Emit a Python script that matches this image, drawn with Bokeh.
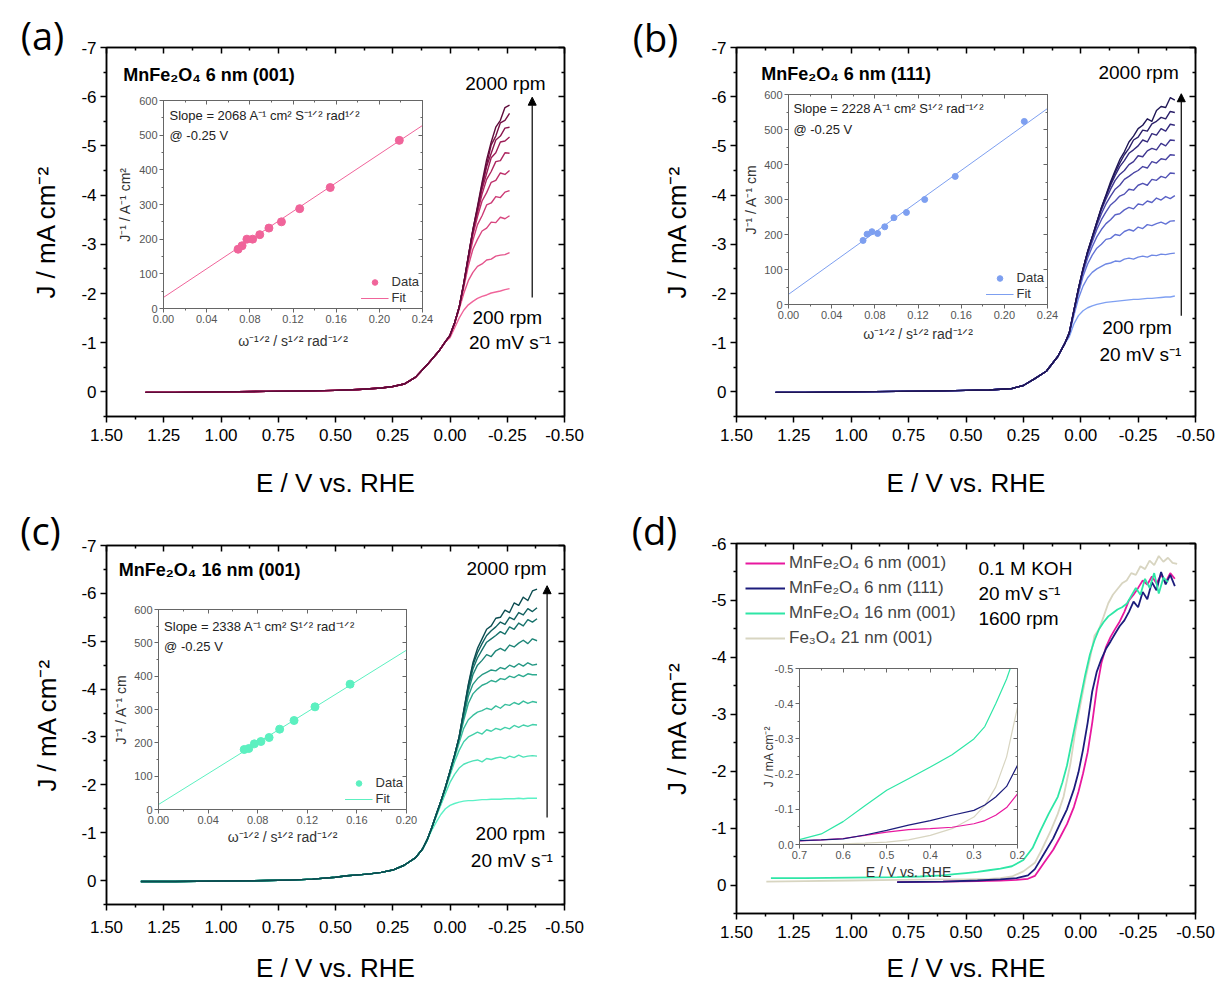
from bokeh.plotting import figure
from bokeh.models import (Range1d, LinearAxis, FixedTicker, NumeralTickFormatter, CustomJSTickFormatter,
                          Label, Arrow, NormalHead, Legend, LegendItem, Column)
from bokeh.embed import file_html
from bokeh.resources import INLINE

FONT = "Liberation Sans"

# ---------------------------------------------------------------- data
rpm = [200, 400, 600, 800, 1000, 1200, 1400, 1600, 1800, 2000]

# panel (a) MnFe2O4 6 nm (001)
a_E_base = [1.33, 1.2, 1.0, 0.8, 0.6, 0.5, 0.4, 0.3, 0.25, 0.2, 0.15, 0.1, 0.05, 0.02]
a_J_base = [0.01, 0.01, 0.0, -0.01, -0.02, -0.03, -0.05, -0.08, -0.11, -0.16, -0.3, -0.55, -0.82, -1.02]
a_E_tail = [0.0, -0.02, -0.04, -0.06, -0.08, -0.10, -0.12, -0.14, -0.16, -0.18, -0.20, -0.22, -0.24, -0.26]
a_J_tails = [
    [-1.1, -1.3, -1.5, -1.66, -1.77, -1.84, -1.9, -1.94, -1.97, -2.01, -2.03, -2.05, -2.08, -2.1],
    [-1.13, -1.38, -1.68, -2.0, -2.26, -2.43, -2.55, -2.6, -2.68, -2.7, -2.76, -2.78, -2.79, -2.83],
    [-1.14, -1.39, -1.7, -2.12, -2.56, -2.9, -3.1, -3.27, -3.33, -3.45, -3.44, -3.55, -3.52, -3.58],
    [-1.15, -1.4, -1.71, -2.17, -2.66, -3.08, -3.4, -3.58, -3.8, -3.84, -3.97, -3.95, -4.06, -4.09],
    [-1.15, -1.4, -1.72, -2.18, -2.7, -3.19, -3.56, -3.88, -4.05, -4.26, -4.3, -4.45, -4.42, -4.5],
    [-1.15, -1.4, -1.72, -2.19, -2.72, -3.24, -3.64, -4.02, -4.32, -4.48, -4.68, -4.7, -4.86, -4.85],
    [-1.15, -1.4, -1.72, -2.2, -2.74, -3.27, -3.69, -4.12, -4.44, -4.76, -4.86, -5.08, -5.1, -5.18],
    [-1.15, -1.4, -1.72, -2.2, -2.75, -3.28, -3.72, -4.17, -4.58, -4.85, -5.12, -5.2, -5.36, -5.38],
    [-1.15, -1.4, -1.72, -2.2, -2.75, -3.3, -3.74, -4.22, -4.62, -5.02, -5.2, -5.47, -5.52, -5.66],
    [-1.15, -1.4, -1.72, -2.2, -2.76, -3.3, -3.77, -4.26, -4.72, -5.08, -5.38, -5.52, -5.78, -5.83],
]
a_colors = ["#f0649a", "#e4548c", "#d8467f", "#cc3a75", "#bd2f6a",
            "#ad265f", "#9c1d56", "#8a164d", "#761044", "#5e0b3a"]

# panel (b) MnFe2O4 6 nm (111)
b_E_base = [1.33, 1.2, 1.0, 0.8, 0.6, 0.5, 0.4, 0.3, 0.25, 0.2, 0.15, 0.1, 0.07]
b_J_base = [0.01, 0.01, 0.0, -0.01, -0.02, -0.03, -0.04, -0.07, -0.13, -0.27, -0.42, -0.72, -0.98]
b_E_tail = [0.05, 0.03, 0.01, -0.01, -0.03, -0.05, -0.07, -0.09, -0.11, -0.13, -0.15, -0.17,
            -0.19, -0.21, -0.23, -0.25, -0.27, -0.29, -0.31, -0.33, -0.35, -0.37, -0.39, -0.41]
b_J_tails = [
    [-1.12, -1.38, -1.55, -1.65, -1.71, -1.75, -1.78, -1.8, -1.82, -1.83, -1.84, -1.85, -1.86, -1.87, -1.88, -1.88, -1.89, -1.9, -1.9, -1.91, -1.92, -1.93, -1.93, -1.95],
    [-1.16, -1.55, -1.9, -2.15, -2.32, -2.43, -2.5, -2.55, -2.6, -2.62, -2.66, -2.65, -2.7, -2.72, -2.7, -2.74, -2.76, -2.74, -2.78, -2.77, -2.8, -2.79, -2.81, -2.82],
    [-1.18, -1.6, -2.0, -2.35, -2.6, -2.78, -2.92, -3.0, -3.1, -3.12, -3.2, -3.18, -3.26, -3.3, -3.27, -3.35, -3.32, -3.4, -3.38, -3.42, -3.45, -3.41, -3.47, -3.48],
    [-1.19, -1.62, -2.05, -2.42, -2.72, -2.95, -3.15, -3.3, -3.42, -3.5, -3.6, -3.62, -3.7, -3.75, -3.72, -3.82, -3.8, -3.88, -3.85, -3.94, -3.9, -3.97, -3.93, -3.99],
    [-1.2, -1.64, -2.08, -2.46, -2.78, -3.05, -3.3, -3.5, -3.66, -3.8, -3.88, -3.98, -4.02, -4.12, -4.1, -4.2, -4.24, -4.2, -4.32, -4.3, -4.38, -4.35, -4.45, -4.44],
    [-1.2, -1.65, -2.09, -2.48, -2.82, -3.1, -3.38, -3.62, -3.82, -3.98, -4.12, -4.2, -4.32, -4.38, -4.45, -4.5, -4.58, -4.55, -4.68, -4.65, -4.74, -4.72, -4.82, -4.81],
    [-1.2, -1.65, -2.1, -2.49, -2.84, -3.13, -3.42, -3.7, -3.92, -4.12, -4.3, -4.42, -4.5, -4.62, -4.68, -4.8, -4.78, -4.9, -4.95, -4.92, -5.05, -5.0, -5.12, -5.11],
    [-1.2, -1.65, -2.1, -2.5, -2.85, -3.14, -3.44, -3.73, -3.97, -4.2, -4.4, -4.58, -4.7, -4.85, -4.92, -5.0, -5.12, -5.08, -5.25, -5.22, -5.35, -5.3, -5.44, -5.42],
    [-1.2, -1.65, -2.1, -2.5, -2.85, -3.15, -3.45, -3.74, -3.99, -4.23, -4.46, -4.65, -4.82, -4.95, -5.12, -5.18, -5.32, -5.3, -5.45, -5.5, -5.58, -5.55, -5.7, -5.68],
    [-1.2, -1.65, -2.1, -2.5, -2.85, -3.15, -3.45, -3.75, -4.0, -4.27, -4.5, -4.72, -4.88, -5.08, -5.2, -5.35, -5.42, -5.55, -5.5, -5.72, -5.8, -5.78, -5.98, -5.93],
]
b_colors = ["#7fa0f2", "#6f88e4", "#6373d6", "#5a62c6", "#5152b4",
            "#4843a2", "#3e3690", "#342a7d", "#2a1f69", "#1f1655"]

# panel (c) MnFe2O4 16 nm (001)
c_E_base = [1.35, 1.2, 1.0, 0.8, 0.7, 0.6, 0.5, 0.45, 0.4, 0.35, 0.3, 0.25, 0.2, 0.15, 0.12]
c_J_base = [0.02, 0.02, 0.01, 0.0, -0.01, -0.03, -0.07, -0.1, -0.12, -0.14, -0.17, -0.22, -0.32, -0.48, -0.66]
c_E_tail = [0.10, 0.08, 0.06, 0.04, 0.02, 0.0, -0.02, -0.04, -0.06, -0.08, -0.10, -0.12, -0.14,
            -0.16, -0.18, -0.20, -0.22, -0.24, -0.26, -0.28, -0.30, -0.32, -0.34, -0.36, -0.38]
c_J_tails = [
    [-0.83, -1.05, -1.22, -1.38, -1.5, -1.57, -1.61, -1.64, -1.66, -1.67, -1.67, -1.68, -1.69, -1.69, -1.7, -1.7, -1.7, -1.71, -1.71, -1.71, -1.72, -1.71, -1.72, -1.72, -1.72],
    [-0.84, -1.08, -1.34, -1.58, -1.82, -2.05, -2.22, -2.35, -2.43, -2.47, -2.5, -2.52, -2.48, -2.55, -2.53, -2.56, -2.58, -2.55, -2.6, -2.57, -2.62, -2.58, -2.6, -2.61, -2.6],
    [-0.85, -1.09, -1.36, -1.62, -1.9, -2.2, -2.48, -2.72, -2.9, -3.0, -3.05, -3.1, -3.06, -3.15, -3.12, -3.18, -3.15, -3.2, -3.17, -3.24, -3.2, -3.25, -3.22, -3.26, -3.25],
    [-0.85, -1.1, -1.37, -1.64, -1.93, -2.25, -2.56, -2.88, -3.18, -3.36, -3.45, -3.52, -3.55, -3.6, -3.57, -3.65, -3.6, -3.68, -3.66, -3.72, -3.68, -3.75, -3.7, -3.74, -3.72],
    [-0.85, -1.1, -1.38, -1.65, -1.94, -2.27, -2.6, -2.95, -3.35, -3.7, -3.9, -4.0, -4.08, -4.12, -4.18, -4.15, -4.22, -4.2, -4.27, -4.24, -4.3, -4.26, -4.32, -4.3, -4.3],
    [-0.85, -1.1, -1.38, -1.65, -1.95, -2.28, -2.61, -2.97, -3.42, -3.85, -4.1, -4.22, -4.3, -4.35, -4.4, -4.38, -4.45, -4.42, -4.5, -4.46, -4.53, -4.48, -4.55, -4.5, -4.52],
    [-0.85, -1.1, -1.38, -1.65, -1.95, -2.28, -2.62, -2.98, -3.48, -3.95, -4.3, -4.5, -4.6, -4.72, -4.68, -4.8, -4.85, -4.8, -4.92, -4.88, -4.96, -5.02, -4.95, -5.05, -5.01],
    [-0.85, -1.1, -1.38, -1.65, -1.95, -2.28, -2.62, -3.0, -3.52, -4.02, -4.42, -4.65, -4.82, -4.98, -5.05, -5.12, -5.2, -5.15, -5.3, -5.25, -5.38, -5.32, -5.45, -5.4, -5.47],
    [-0.85, -1.1, -1.38, -1.65, -1.95, -2.28, -2.62, -3.0, -3.54, -4.07, -4.5, -4.76, -4.95, -5.12, -5.22, -5.3, -5.4, -5.35, -5.5, -5.45, -5.6, -5.55, -5.68, -5.62, -5.7],
    [-0.85, -1.1, -1.38, -1.65, -1.95, -2.28, -2.62, -3.0, -3.55, -4.1, -4.55, -4.85, -5.05, -5.25, -5.32, -5.48, -5.5, -5.65, -5.6, -5.8, -5.75, -5.92, -5.85, -6.05, -6.09],
]
c_colors = ["#5cf2c6", "#4fe2b8", "#43d0aa", "#38be9d", "#2eab90",
            "#259884", "#1d8577", "#16726b", "#105f5e", "#0b4c50"]

# Koutecky-Levich insets: omega^-1/2 for 200 ... 2000 rpm
kl_x = [0.2185, 0.1545, 0.1262, 0.1093, 0.0977, 0.0892, 0.0826, 0.0773, 0.0728, 0.0691]
a_kl_y = [485, 349, 288, 250, 232, 213, 200, 200, 181, 171]
a_fit_x = [0.0, 0.24]
a_fit_y = [32, 528]
b_kl_y = [523, 366, 300, 263, 248, 222, 203, 208, 201, 183]
b_fit_x = [0.0, 0.24]
b_fit_y = [29, 560]
c_kl_x = [0.1545, 0.1262, 0.1093, 0.0977, 0.0892, 0.0826, 0.0773, 0.0728, 0.0691]
c_kl_y = [376, 308, 267, 241, 216, 204, 197, 183, 180]
c_fit_x = [0.0, 0.20]
c_fit_y = [15, 478]

# panel (d) comparison at 1600 rpm
d_E_m = [0.80, 0.60, 0.45, 0.35, 0.28, 0.23, 0.20, 0.16, 0.12, 0.09, 0.06, 0.03, 0.01,
         -0.01, -0.03, -0.05, -0.07, -0.09, -0.11, -0.13, -0.15, -0.17, -0.19, -0.21,
         -0.23, -0.25, -0.27, -0.29, -0.31, -0.33, -0.35, -0.37, -0.39, -0.41]
d_J_m = [-0.05, -0.06, -0.07, -0.08, -0.09, -0.11, -0.16, -0.39, -0.62, -0.84, -1.07, -1.37, -1.64,
         -1.96, -2.33, -2.85, -3.45, -3.9, -4.18, -4.36, -4.5, -4.63, -4.8, -5.0,
         -5.1, -5.22, -5.35, -5.28, -5.42, -5.3, -5.45, -5.32, -5.48, -5.38]
d_J_n = [-0.05, -0.06, -0.08, -0.1, -0.12, -0.17, -0.28, -0.55, -0.82, -1.08, -1.33, -1.68, -1.98,
         -2.38, -2.85, -3.4, -3.75, -3.97, -4.15, -4.28, -4.42, -4.55, -4.65, -4.8,
         -4.98, -4.88, -5.15, -5.02, -5.32, -5.18, -5.5, -5.28, -5.45, -5.25]
d_E_g = [1.35, 1.2, 1.0, 0.8, 0.7, 0.6, 0.55, 0.5, 0.45, 0.4, 0.35, 0.3, 0.25, 0.21, 0.175, 0.14,
         0.10, 0.08, 0.06, 0.04, 0.02, 0.0, -0.02, -0.04, -0.06, -0.08, -0.10, -0.12, -0.14,
         -0.16, -0.18, -0.20, -0.22, -0.24, -0.26, -0.28, -0.30, -0.32, -0.34, -0.36, -0.38]
d_J_g = [-0.12, -0.12, -0.13, -0.14, -0.15, -0.17, -0.19, -0.21, -0.23, -0.26, -0.29, -0.33, -0.44, -0.65, -0.96, -1.25,
         -1.55, -1.8, -2.1, -2.5, -2.9, -3.3, -3.7, -4.05, -4.3, -4.5, -4.62, -4.72, -4.78,
         -4.84, -4.88, -4.94, -5.08, -5.22, -5.1, -5.38, -5.22, -5.48, -5.12, -5.4, -5.32]
d_E_f = [1.37, 1.2, 1.0, 0.8, 0.6, 0.5, 0.4, 0.35, 0.3, 0.25, 0.2, 0.17, 0.13, 0.1, 0.075, 0.045, 0.023,
         0.0, -0.02, -0.04, -0.06, -0.08, -0.10, -0.12, -0.14, -0.16, -0.18, -0.20, -0.22,
         -0.24, -0.26, -0.28, -0.30, -0.32, -0.34, -0.36, -0.38, -0.40, -0.42]
d_J_f = [-0.06, -0.07, -0.08, -0.09, -0.1, -0.1, -0.11, -0.12, -0.15, -0.24, -0.39, -0.62, -0.96, -1.25, -1.55, -2.13, -2.72,
         -3.2, -3.62, -3.98, -4.38, -4.5, -4.72, -4.95, -5.1, -5.2, -5.3, -5.35, -5.48,
         -5.45, -5.6, -5.55, -5.7, -5.62, -5.78, -5.68, -5.75, -5.66, -5.64]
d_names = ["MnFe\u2082O\u2084 6 nm (001)", "MnFe\u2082O\u2084 6 nm (111)",
           "MnFe\u2082O\u2084 16 nm (001)", "Fe\u2083O\u2084 21 nm (001)"]
d_colors = ["#e8189f", "#1c1c7c", "#2ee6a6", "#d8d5c1"]

# panel (d) inset (onset region)
din_E = [0.7, 0.65, 0.6, 0.55, 0.5, 0.45, 0.4, 0.35, 0.3, 0.275, 0.25, 0.225, 0.2]
din_J_m = [-0.01, -0.013, -0.017, -0.026, -0.035, -0.042, -0.045, -0.049, -0.059, -0.068, -0.083, -0.105, -0.144]
din_J_n = [-0.011, -0.013, -0.016, -0.027, -0.04, -0.055, -0.068, -0.083, -0.097, -0.112, -0.135, -0.165, -0.225]
din_J_g = [-0.014, -0.03, -0.065, -0.11, -0.154, -0.187, -0.22, -0.255, -0.30, -0.335, -0.40, -0.47, -0.56]
din_J_f = [0.0, -0.001, -0.002, -0.004, -0.007, -0.013, -0.026, -0.045, -0.078, -0.111, -0.163, -0.249, -0.39]

# ---------------------------------------------------------------- helpers
BL, BR = 130, 50   # common left/right borders (column aligns them across children)
EMPTY = CustomJSTickFormatter(code="return ''")


def place(l, t):
    return [":host { position: absolute !important; left: %dpx !important; top: %dpx !important; }" % (l, t)]


def style_axis(ax, tick_px, lab_px, color="black", lw=1.5, t_out=6, t_in=0, m_out=3, m_in=0,
               lab_color="black", tick_color="black"):
    ax.axis_line_width = lw
    ax.axis_line_color = color
    ax.major_tick_line_width = lw
    ax.minor_tick_line_width = lw
    ax.major_tick_line_color = color
    ax.minor_tick_line_color = color
    ax.major_tick_out = t_out
    ax.major_tick_in = t_in
    ax.minor_tick_out = m_out
    ax.minor_tick_in = m_in
    ax.major_label_text_font = FONT
    ax.major_label_text_font_size = "%dpx" % tick_px
    ax.major_label_text_color = tick_color
    ax.axis_label_text_font = FONT
    ax.axis_label_text_font_size = "%dpx" % lab_px
    ax.axis_label_text_font_style = "normal"
    ax.axis_label_text_color = lab_color


X_TICKS = FixedTicker(ticks=[1.5, 1.25, 1.0, 0.75, 0.5, 0.25, 0.0, -0.25, -0.5],
                      minor_ticks=[1.375, 1.125, 0.875, 0.625, 0.375, 0.125, -0.125, -0.375])


def main_panel(fl, ft, fw, fh, bt, bb, ytop, xl_std, xt_std, yl_std):
    p = figure(width=BL + fw + BR, height=bt + fh + bb, x_range=Range1d(1.5, -0.5), y_range=Range1d(0.5, ytop),
               output_backend="svg", toolbar_location=None,
               min_border_left=BL, min_border_top=bt, min_border_right=BR, min_border_bottom=bb,
               background_fill_alpha=0, border_fill_alpha=0,
               outline_line_color="black", outline_line_width=1.5,
               stylesheets=place(fl - BL, ft - bt))
    p.grid.visible = False
    yt = FixedTicker(ticks=list(range(int(ytop), 1)),
                     minor_ticks=[v + 0.5 for v in range(int(ytop), 1)])
    xa = p.xaxis[0]
    xa.ticker = X_TICKS
    xa.formatter = NumeralTickFormatter(format="0.00")
    xa.axis_label = "E / V vs. RHE"
    style_axis(xa, 17, 26)
    xa.major_label_standoff = xt_std
    xa.axis_label_standoff = xl_std
    ya = p.yaxis[0]
    ya.ticker = yt
    ya.formatter = NumeralTickFormatter(format="0")
    ya.axis_label = "J / mA cm\u207b\u00b2"
    style_axis(ya, 17, 26)
    ya.major_label_standoff = 4
    ya.axis_label_standoff = yl_std
    top = LinearAxis(ticker=X_TICKS, formatter=EMPTY)
    style_axis(top, 10, 10, t_out=0, t_in=6, m_out=0, m_in=3)
    right = LinearAxis(ticker=yt, formatter=EMPTY)
    style_axis(right, 10, 10, t_out=0, t_in=6, m_out=0, m_in=3)
    p.add_layout(top, "above")
    p.add_layout(right, "right")
    return p


def txt(p, x, y, s, size=18, align="center", bold=False, font=FONT, color="black"):
    p.add_layout(Label(x=x, y=y, text=s, text_font=font, text_font_size="%dpx" % size,
                       text_align=align, text_baseline="middle", text_color=color,
                       text_font_style="bold" if bold else "normal"))


def arrow(p, x, y0, y1):
    p.add_layout(Arrow(end=NormalHead(size=8, fill_color="black", line_color="black", line_width=1),
                       x_start=x, y_start=y0, x_end=x, y_end=y1, line_width=1.2, line_color="black"))


def inset(fl, ft, fw, fh, bb, xr, yr, xticks, xminor, yticks, yminor, xfmt, yfmt,
          xlabel, ylabel, xl_std, yl_std, xlab_px=14, ylab_px=14):
    bt = 12
    p = figure(width=BL + fw + BR, height=fh + bt + bb, x_range=Range1d(*xr), y_range=Range1d(*yr),
               output_backend="svg", toolbar_location=None,
               min_border_left=BL, min_border_top=bt, min_border_right=BR, min_border_bottom=bb,
               background_fill_alpha=0, border_fill_alpha=0,
               outline_line_color="#666666", outline_line_width=1,
               stylesheets=place(fl - BL, ft - bt))
    p.grid.visible = False
    xt = FixedTicker(ticks=xticks, minor_ticks=xminor)
    yt = FixedTicker(ticks=yticks, minor_ticks=yminor)
    xa = p.xaxis[0]
    xa.ticker = xt
    xa.formatter = NumeralTickFormatter(format=xfmt)
    xa.axis_label = xlabel
    style_axis(xa, 11, xlab_px, color="#666666", lw=1, t_out=4, m_out=2,
               lab_color="#333333", tick_color="#555555")
    xa.major_label_standoff = 2
    xa.axis_label_standoff = xl_std
    ya = p.yaxis[0]
    ya.ticker = yt
    ya.formatter = NumeralTickFormatter(format=yfmt)
    ya.axis_label = ylabel
    style_axis(ya, 11, ylab_px, color="#666666", lw=1, t_out=4, m_out=2,
               lab_color="#333333", tick_color="#555555")
    ya.major_label_standoff = 2
    ya.axis_label_standoff = yl_std
    top = LinearAxis(ticker=xt, formatter=EMPTY)
    style_axis(top, 8, 8, color="#666666", lw=1, t_out=0, t_in=4, m_out=0, m_in=2)
    right = LinearAxis(ticker=yt, formatter=EMPTY)
    style_axis(right, 8, 8, color="#666666", lw=1, t_out=0, t_in=4, m_out=0, m_in=2)
    p.add_layout(top, "above")
    p.add_layout(right, "right")
    return p


def kl_inset(p, xs, ys, fx, fy, color, size, slope_text, tx, ty1, ty2):
    lr = p.line(fx, fy, line_color=color, line_width=1)
    cr = p.scatter(xs, ys, size=size, fill_color=color, line_color=color)
    txt(p, tx, ty1, slope_text, size=13, align="left", color="#222222")
    txt(p, tx, ty2, "@ -0.25 V", size=13, align="left", color="#222222")
    lg = Legend(items=[LegendItem(label="Data", renderers=[cr]), LegendItem(label="Fit", renderers=[lr])],
                location="bottom_right", margin=0, padding=3, spacing=1,
                label_text_font=FONT, label_text_font_size="13px", label_text_color="#333333",
                label_height=14, glyph_height=14, glyph_width=28, label_standoff=3,
                border_line_alpha=0, background_fill_alpha=0)
    p.add_layout(lg)


# ---------------------------------------------------------------- main panels
pa = main_panel(106, 47, 458, 369, 47, 90, -7, 24, 6, 17)
pb = main_panel(736, 47, 459, 369, 47, 90, -7, 24, 6, 16)
pc = main_panel(106, 545, 458, 359, 45, 90, -7, 17, 10, 16)
pd = main_panel(736, 543, 459, 370, 43, 90, -6, 12, 6, 16)

for p, Eb, Jb, Et, Jts, cols in [(pa, a_E_base, a_J_base, a_E_tail, a_J_tails, a_colors),
                                  (pb, b_E_base, b_J_base, b_E_tail, b_J_tails, b_colors),
                                  (pc, c_E_base, c_J_base, c_E_tail, c_J_tails, c_colors)]:
    for Jt, col in zip(Jts, cols):
        p.line(Eb + Et, Jb + Jt, line_color=col, line_width=1.4, line_join="round")

txt(pa, 1.427, -6.44, "MnFe\u2082O\u2084 6 nm (001)", size=18, align="left", bold=True)
txt(pb, 1.392, -6.46, "MnFe\u2082O\u2084 6 nm (111)", size=18, align="left", bold=True)
txt(pc, 1.446, -6.49, "MnFe\u2082O\u2084 16 nm (001)", size=18, align="left", bold=True)

txt(pa, -0.242, -6.27, "2000 rpm", size=19)
txt(pa, -0.25, -1.51, "200 rpm", size=19)
txt(pa, -0.262, -1.0, "20 mV s\u207b\u00b9", size=19)
arrow(pa, -0.359, -1.92, -5.99)

txt(pb, -0.252, -6.50, "2000 rpm", size=19)
txt(pb, -0.245, -1.30, "200 rpm", size=19)
txt(pb, -0.26, -0.77, "20 mV s\u207b\u00b9", size=19)
arrow(pb, -0.438, -1.55, -6.06)

txt(pc, -0.247, -6.52, "2000 rpm", size=19)
txt(pc, -0.264, -0.98, "200 rpm", size=19)
txt(pc, -0.27, -0.42, "20 mV s\u207b\u00b9", size=19)
arrow(pc, -0.424, -1.32, -6.16)

# panel (d)
rf = pd.line(d_E_f, d_J_f, line_color=d_colors[3], line_width=1.8)
rm = pd.line(d_E_m, d_J_m, line_color=d_colors[0], line_width=1.8)
rn = pd.line(d_E_m, d_J_n, line_color=d_colors[1], line_width=1.8)
rg = pd.line(d_E_g, d_J_g, line_color=d_colors[2], line_width=1.8)
dleg = Legend(items=[LegendItem(label=d_names[0], renderers=[rm]),
                     LegendItem(label=d_names[1], renderers=[rn]),
                     LegendItem(label=d_names[2], renderers=[rg]),
                     LegendItem(label=d_names[3], renderers=[rf])],
              location="top_left", margin=0, padding=9, spacing=3,
              label_text_font=FONT, label_text_font_size="17px",
              label_height=22, glyph_height=22, glyph_width=40, label_standoff=4,
              border_line_alpha=0, background_fill_alpha=0)
pd.add_layout(dleg)
txt(pd, 0.446, -5.56, "0.1 M KOH", size=19, align="left")
txt(pd, 0.446, -5.12, "20 mV s\u207b\u00b9", size=19, align="left")
txt(pd, 0.446, -4.68, "1600 rpm", size=19, align="left")

# ---------------------------------------------------------------- insets
KL_X = "\u03c9\u207b\u00b9\u141f\u00b2 / s\u00b9\u141f\u00b2 rad\u207b\u00b9\u141f\u00b2"
x024 = [0.0, 0.04, 0.08, 0.12, 0.16, 0.20, 0.24]
x024m = [0.02, 0.06, 0.10, 0.14, 0.18, 0.22]
y600 = [0, 100, 200, 300, 400, 500, 600]
y600m = [50, 150, 250, 350, 450, 550]

ia = inset(163, 100, 259, 208, 50, (0, 0.24), (0, 600), x024, x024m, y600, y600m,
           "0.00", "0", KL_X, "J\u207b\u00b9 / A\u207b\u00b9 cm\u00b2", 7, 3)
kl_inset(ia, kl_x, a_kl_y, a_fit_x, a_fit_y, "#f0649a", 8,
         "Slope = 2068 A\u207b\u00b9 cm\u00b2 S\u207b\u00b9\u141f\u00b2 rad\u00b9\u141f\u00b2", 0.0056, 557, 499)

ib = inset(788, 94, 259, 210, 50, (0, 0.24), (0, 600), x024, x024m, y600, y600m,
           "0.00", "0", KL_X, "J\u207b\u00b9 / A\u207b\u00b9 cm", 4, 2)
kl_inset(ib, kl_x, b_kl_y, b_fit_x, b_fit_y, "#7d9ff0", 6,
         "Slope = 2228 A\u207b\u00b9 cm\u00b2 S\u00b9\u141f\u00b2 rad\u207b\u00b9\u141f\u00b2", 0.0046, 560, 500)

ic = inset(158, 609, 248, 200, 50, (0, 0.20), (0, 600),
           [0.0, 0.04, 0.08, 0.12, 0.16, 0.20], [0.02, 0.06, 0.10, 0.14, 0.18], y600, y600m,
           "0.00", "0", KL_X, "J\u207b\u00b9 / A\u207b\u00b9 cm", 2, 2)
kl_inset(ic, c_kl_x, c_kl_y, c_fit_x, c_fit_y, "#5cf0c0", 8,
         "Slope = 2338 A\u207b\u00b9 cm\u00b2 S\u00b9\u141f\u00b2 rad\u207b\u00b9\u141f\u00b2", 0.0045, 548, 488)

idd = inset(799, 668, 218, 176, 50, (0.7, 0.2), (0.0, -0.5),
            [0.7, 0.6, 0.5, 0.4, 0.3, 0.2], [0.65, 0.55, 0.45, 0.35, 0.25],
            [0.0, -0.1, -0.2, -0.3, -0.4, -0.5], [-0.05, -0.15, -0.25, -0.35, -0.45],
            "0.0", "0.0", "E / V vs. RHE", "J / mA cm\u207b\u00b2", 2, -4, xlab_px=14, ylab_px=12)
for Jv, col in zip([din_J_f, din_J_m, din_J_n, din_J_g], [d_colors[3], d_colors[0], d_colors[1], d_colors[2]]):
    idd.line(din_E, Jv, line_color=col, line_width=1.2)

# ---------------------------------------------------------------- panel letters (page-pixel overlay)
OV_W = 1217 - BL - BR
ov = figure(width=1217, height=982, x_range=Range1d(0, OV_W), y_range=Range1d(982, 0),
            output_backend="svg", toolbar_location=None, x_axis_location=None, y_axis_location=None,
            min_border_left=BL, min_border_right=BR, min_border_top=0, min_border_bottom=0,
            background_fill_alpha=0, border_fill_alpha=0, outline_line_color=None,
            stylesheets=place(-BL, 0))
ov.grid.visible = False
for s, x, y in [("(a)", 42, 34), ("(b)", 655, 36), ("(c)", 40, 529), ("(d)", 654, 529)]:
    txt(ov, x, y, s, size=38, font="Open Sans")

root = Column(children=[pa, pb, pc, pd, ia, ib, ic, idd, ov], width=1217, height=982, sizing_mode="fixed",
              stylesheets=[":host { position: relative !important; overflow: hidden !important; }"])

open("out.html", "w").write(file_html(root, INLINE))
